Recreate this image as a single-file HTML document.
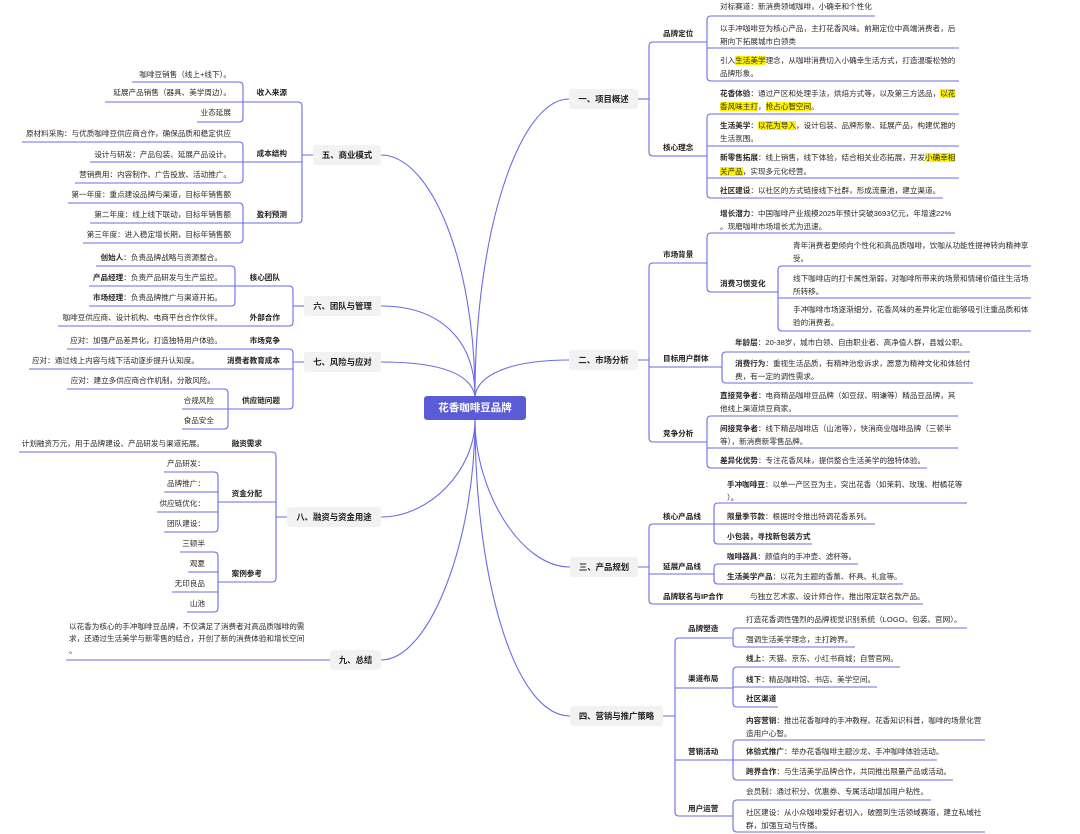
<!DOCTYPE html>
<html>
<head>
<meta charset="utf-8">
<style>
html,body{margin:0;padding:0;background:#fff;}
body{width:1080px;height:834px;position:relative;overflow:hidden;font-family:"Liberation Sans","Noto Sans CJK SC",sans-serif;}
svg{position:absolute;left:0;top:0;}
.t{position:absolute;font-size:7.6px;line-height:12px;color:#2a2a2a;white-space:nowrap;}
.m{line-height:12.5px;}
.b{font-weight:bold;color:#1e1e1e;}
.r{text-align:right;}
.h{background:#fff200;}
.box{position:absolute;background:#f2f2f2;border-radius:3px;font-size:8.4px;font-weight:bold;color:#222;text-align:center;line-height:20px;height:20px;white-space:nowrap;}
.center{position:absolute;left:424px;top:396px;width:102px;height:24px;background:#5a5bd6;border-radius:3px;color:#fff;font-size:10.5px;font-weight:bold;text-align:center;line-height:24px;white-space:nowrap;}
</style>
</head>
<body>
<svg width="1080" height="834" viewBox="0 0 1080 834" fill="none" stroke="#6a6ce3" stroke-width="1.1">
<!-- main curves -->
<path d="M381,155 C430,155 475,260 475,396"/>
<path d="M381,306 C440,306 475,340 475,396"/>
<path d="M381,362 C430,362 470,370 475,396"/>
<path d="M381,517 C430,517 475,470 475,420"/>
<path d="M381,660 C430,660 475,540 475,420"/>
<path d="M569,99 C520,99 475,230 475,396"/>
<path d="M569,360 C510,360 478,375 475,396"/>
<path d="M570,567 C520,567 475,490 475,420"/>
<path d="M570,716 C515,716 475,580 475,420"/>

<!-- 五 -->
<path d="M132,82 H239 Q243,82 243,86 V118 Q243,122 239,122 H197"/>
<path d="M105,102 H243"/>
<path d="M22,142 H239 Q243,142 243,146 V179 Q243,183 239,183 H75"/>
<path d="M90,162 H243"/>
<path d="M68,203 H239 Q243,203 243,207 V239 Q243,243 239,243 H83"/>
<path d="M90,223 H243"/>
<path d="M243,102 H298 Q302,102 302,106 V219 Q302,223 298,223 H243"/>
<path d="M243,162 H302 M302,155 H313"/>

<!-- 六 -->
<path d="M96,266 H231 Q235,266 235,270 V302 Q235,306 231,306 H89"/>
<path d="M89,286 H235"/>
<path d="M235,286 H289 Q293,286 293,290 V322 Q293,326 289,326 H58"/>
<path d="M293,306 H304"/>

<!-- 七 -->
<path d="M67,349 H289 Q293,349 293,353 V405 Q293,409 289,409 H182"/>
<path d="M29,369 H293 M293,362 H304"/>
<path d="M67,389 H224 Q228,389 228,393 V425 Q228,429 224,429 H182"/>

<!-- 八 -->
<path d="M19,452 H272 Q276,452 276,456 V578 Q276,582 272,582 H218"/>
<path d="M218,502 H276 M276,517 H287"/>
<path d="M164,472 H214 Q218,472 218,476 V528 Q218,532 214,532 H164"/>
<path d="M164,492 H218 M157,512 H218"/>
<path d="M180,552 H214 Q218,552 218,556 V608 Q218,612 214,612 H187"/>
<path d="M188,572 H218 M172,592 H218"/>

<!-- 九 -->
<path d="M66,660 H330"/>

<!-- 一 -->
<path d="M707,42 H653 Q649,42 649,46 V152 Q649,156 653,156 H707"/>
<path d="M638,99 H649"/>
<path d="M875,16 H711 Q707,16 707,20 V77 Q707,81 711,81 H959"/>
<path d="M707,48 H959"/>
<path d="M959,114 H711 Q707,114 707,118 V194 Q707,198 711,198 H943"/>
<path d="M707,146 H959 M707,178 H959"/>

<!-- 二 -->
<path d="M707,263 H653 Q649,263 649,267 V438 Q649,442 653,442 H707"/>
<path d="M649,367 H722 M638,360 H649"/>
<path d="M955,233 H711 Q707,233 707,237 V288 Q707,292 711,292 H778"/>
<path d="M1031,266 H782 Q778,266 778,270 V327 Q778,331 782,331 H1031"/>
<path d="M778,298 H1031"/>
<path d="M970,352 H726 Q722,352 722,356 V379 Q722,383 726,383 H973"/>
<path d="M958,416 H711 Q707,416 707,420 V464 Q707,468 711,468 H927"/>
<path d="M707,448 H958"/>

<!-- 三 -->
<path d="M714,524 H653 Q649,524 649,528 V600 Q649,604 653,604 H923"/>
<path d="M649,574 H714 M638,567 H649"/>
<path d="M967,503 H718 Q714,503 714,507 V540 Q714,544 718,544 H812"/>
<path d="M714,524 H875"/>
<path d="M858,564 H718 Q714,564 714,568 V580 Q714,584 718,584 H903"/>

<!-- 四 -->
<path d="M733,638 H679 Q675,638 675,642 V812 Q675,816 679,816 H733"/>
<path d="M675,688 H733 M675,760 H733 M663,716 H675"/>
<path d="M967,628 H737 Q733,628 733,632 V643 Q733,647 737,647 H855"/>
<path d="M900,667 H737 Q733,667 733,671 V703 Q733,707 737,707 H778"/>
<path d="M733,687 H877"/>
<path d="M985,740 H737 Q733,740 733,744 V776 Q733,780 737,780 H953"/>
<path d="M733,760 H937"/>
<path d="M931,800 H737 Q733,800 733,804 V828 Q733,832 737,832 H985"/>
</svg>

<!-- center -->
<div class="center">花香咖啡豆品牌</div>

<!-- section boxes -->
<div class="box" style="left:313px;top:145px;width:68px;">五、商业模式</div>
<div class="box" style="left:304px;top:296px;width:77px;">六、团队与管理</div>
<div class="box" style="left:304px;top:352px;width:77px;">七、风险与应对</div>
<div class="box" style="left:287px;top:507px;width:94px;">八、融资与资金用途</div>
<div class="box" style="left:330px;top:650px;width:51px;">九、总结</div>
<div class="box" style="left:569px;top:89px;width:69px;">一、项目概述</div>
<div class="box" style="left:569px;top:350px;width:69px;">二、市场分析</div>
<div class="box" style="left:570px;top:557px;width:68px;">三、产品规划</div>
<div class="box" style="left:570px;top:706px;width:93px;">四、营销与推广策略</div>

<!-- 五 商业模式 -->
<div class="t r" style="right:849px;top:69px;">咖啡豆销售（线上+线下）。</div>
<div class="t r" style="right:849px;top:87px;">延展产品销售（器具、美学周边）。</div>
<div class="t r" style="right:849px;top:107px;">业态延展</div>
<div class="t r" style="right:849px;top:128px;">原材料采购：与优质咖啡豆供应商合作，确保品质和稳定供应</div>
<div class="t r" style="right:849px;top:149px;">设计与研发：产品包装、延展产品设计。</div>
<div class="t r" style="right:849px;top:169px;">营销费用：内容制作、广告投放、活动推广。</div>
<div class="t r" style="right:849px;top:189px;">第一年度：重点建设品牌与渠道，目标年销售额</div>
<div class="t r" style="right:849px;top:209px;">第二年度：线上线下联动，目标年销售额</div>
<div class="t r" style="right:849px;top:229px;">第三年度：进入稳定增长期，目标年销售额</div>
<div class="t b r" style="right:793px;top:87px;">收入来源</div>
<div class="t b r" style="right:793px;top:148px;">成本结构</div>
<div class="t b r" style="right:793px;top:209px;">盈利预测</div>

<!-- 六 团队与管理 -->
<div class="t r" style="right:858px;top:252px;"><b>创始人</b>：负责品牌战略与资源整合。</div>
<div class="t r" style="right:858px;top:272px;"><b>产品经理</b>：负责产品研发与生产监控。</div>
<div class="t r" style="right:858px;top:292px;"><b>市场经理</b>：负责品牌推广与渠道开拓。</div>
<div class="t r" style="right:858px;top:312px;">咖啡豆供应商、设计机构、电商平台合作伙伴。</div>
<div class="t b r" style="right:800px;top:272px;">核心团队</div>
<div class="t b r" style="right:800px;top:312px;">外部合作</div>

<!-- 七 风险与应对 -->
<div class="t r" style="right:858px;top:335px;">应对：加强产品差异化，打造独特用户体验。</div>
<div class="t r" style="right:881px;top:355px;">应对：通过线上内容与线下活动逐步提升认知度。</div>
<div class="t r" style="right:865px;top:375px;">应对：建立多供应商合作机制，分散风险。</div>
<div class="t r" style="right:866px;top:395px;">合规风险</div>
<div class="t r" style="right:866px;top:415px;">食品安全</div>
<div class="t b r" style="right:800px;top:335px;">市场竞争</div>
<div class="t b r" style="right:800px;top:355px;">消费者教育成本</div>
<div class="t b r" style="right:800px;top:395px;">供应链问题</div>

<!-- 八 融资与资金用途 -->
<div class="t r" style="right:876px;top:438px;">计划融资万元，用于品牌建设、产品研发与渠道拓展。</div>
<div class="t r" style="right:875px;top:458px;">产品研发：</div>
<div class="t r" style="right:875px;top:478px;">品牌推广：</div>
<div class="t r" style="right:875px;top:498px;">供应链优化：</div>
<div class="t r" style="right:875px;top:518px;">团队建设：</div>
<div class="t r" style="right:875px;top:538px;">三顿半</div>
<div class="t r" style="right:875px;top:558px;">观夏</div>
<div class="t r" style="right:875px;top:578px;">无印良品</div>
<div class="t r" style="right:875px;top:598px;">山池</div>
<div class="t b r" style="right:818px;top:438px;">融资需求</div>
<div class="t b r" style="right:818px;top:488px;">资金分配</div>
<div class="t b r" style="right:818px;top:568px;">案例参考</div>

<!-- 九 总结 -->
<div class="t" style="left:69px;top:621px;line-height:12px;">以花香为核心的手冲咖啡豆品牌，不仅满足了消费者对高品质咖啡的需<br>求，还通过生活美学与新零售的结合，开创了新的消费体验和增长空间<br>。</div>

<!-- 一 项目概述 -->
<div class="t b" style="left:663px;top:28px;">品牌定位</div>
<div class="t b" style="left:663px;top:142px;">核心理念</div>
<div class="t" style="left:720px;top:1px;">对标赛道：新消费领域咖啡，小确幸和个性化</div>
<div class="t m" style="left:720px;top:22px;line-height:13px;">以手冲咖啡豆为核心产品，主打花香风味。前期定位中高端消费者，后<br>期向下拓展城市白领类</div>
<div class="t m" style="left:720px;top:55px;">引入<span class="h">生活美学</span>理念，从咖啡消费切入小确幸生活方式，打造温暖松弛的<br>品牌形象。</div>
<div class="t m" style="left:720px;top:88px;"><b>花香体验</b>：通过产区和处理手法，烘焙方式等，以及第三方选品，<span class="h">以花</span><br><span class="h">香风味主打</span>，<span class="h">抢占心智空间</span>。</div>
<div class="t m" style="left:720px;top:120px;"><b>生活美学</b>：<span class="h">以花为导入</span>，设计包装、品牌形象、延展产品，构建优雅的<br>生活氛围。</div>
<div class="t m" style="left:720px;top:151px;line-height:13.5px;"><b>新零售拓展</b>：线上销售，线下体验，结合相关业态拓展，开发<span class="h">小确幸相</span><br><span class="h">关产品</span>，实现多元化经营。</div>
<div class="t" style="left:720px;top:185px;"><b>社区建设</b>：以社区的方式链接线下社群，形成流量池，建立渠道。</div>

<!-- 二 市场分析 -->
<div class="t b" style="left:663px;top:249px;">市场背景</div>
<div class="t b" style="left:663px;top:353px;">目标用户群体</div>
<div class="t b" style="left:663px;top:428px;">竞争分析</div>
<div class="t m" style="left:720px;top:208px;"><b>增长潜力</b>：中国咖啡产业规模2025年预计突破3693亿元，年增速22%<br>。现磨咖啡市场增长尤为迅速。</div>
<div class="t b" style="left:720px;top:278px;">消费习惯变化</div>
<div class="t m" style="left:793px;top:239px;line-height:13px;">青年消费者更倾向个性化和高品质咖啡，饮咖从功能性提神转向精神享<br>受。</div>
<div class="t m" style="left:793px;top:273px;">线下咖啡店的打卡属性渐弱，对咖啡所带来的场景和情绪价值往生活场<br>所转移。</div>
<div class="t m" style="left:793px;top:304px;">手冲咖啡市场逐渐细分，花香风味的差异化定位能够吸引注重品质和体<br>验的消费者。</div>
<div class="t" style="left:735px;top:337px;"><b>年龄层</b>：20-38岁，城市白领、自由职业者、高净值人群，县城公职。</div>
<div class="t m" style="left:735px;top:357px;line-height:13px;"><b>消费行为</b>：重视生活品质，有精神治愈诉求，愿意为精神文化和体验付<br>费，有一定的调性需求。</div>
<div class="t m" style="left:720px;top:390px;"><b>直接竞争者</b>：电商精品咖啡豆品牌（如豆叔、明谦等）精品豆品牌，其<br>他线上渠道烘豆商家。</div>
<div class="t m" style="left:720px;top:423px;"><b>间接竞争者</b>：线下精品咖啡店（山池等），快消商业咖啡品牌（三顿半<br>等），新消费新零售品牌。</div>
<div class="t" style="left:720px;top:455px;"><b>差异化优势</b>：专注花香风味，提供整合生活美学的独特体验。</div>

<!-- 三 产品规划 -->
<div class="t b" style="left:663px;top:511px;">核心产品线</div>
<div class="t b" style="left:663px;top:561px;">延展产品线</div>
<div class="t b" style="left:663px;top:591px;">品牌联名与IP合作</div>
<div class="t m" style="left:727px;top:478px;line-height:13px;"><b>手冲咖啡豆</b>：以单一产区豆为主，突出花香（如茉莉、玫瑰、柑橘花等<br>）。</div>
<div class="t" style="left:727px;top:511px;"><b>限量季节款</b>：根据时令推出特调花香系列。</div>
<div class="t b" style="left:727px;top:531px;">小包装，寻找新包装方式</div>
<div class="t" style="left:727px;top:551px;"><b>咖啡器具</b>：颜值向的手冲壶、滤杯等。</div>
<div class="t" style="left:727px;top:571px;"><b>生活美学产品</b>：以花为主题的香薰、杯具、礼盒等。</div>
<div class="t" style="left:750px;top:591px;">与独立艺术家、设计师合作，推出限定联名款产品。</div>

<!-- 四 营销与推广策略 -->
<div class="t b" style="left:688px;top:623px;">品牌塑造</div>
<div class="t b" style="left:688px;top:673px;">渠道布局</div>
<div class="t b" style="left:688px;top:746px;">营销活动</div>
<div class="t b" style="left:688px;top:803px;">用户运营</div>
<div class="t" style="left:746px;top:614px;">打造花香调性强烈的品牌视觉识别系统（LOGO、包装、官网）。</div>
<div class="t" style="left:746px;top:634px;">强调生活美学理念，主打跨界。</div>
<div class="t" style="left:746px;top:653px;"><b>线上</b>：天猫、京东、小红书商城；自营官网。</div>
<div class="t" style="left:746px;top:674px;"><b>线下</b>：精品咖啡馆、书店、美学空间。</div>
<div class="t b" style="left:746px;top:693px;">社区渠道</div>
<div class="t m" style="left:746px;top:714px;line-height:13px;"><b>内容营销</b>：推出花香咖啡的手冲教程、花香知识科普，咖啡的场景化营<br>造用户心智。</div>
<div class="t" style="left:746px;top:746px;"><b>体验式推广</b>：举办花香咖啡主题沙龙、手冲咖啡体验活动。</div>
<div class="t" style="left:746px;top:766px;"><b>跨界合作</b>：与生活美学品牌合作，共同推出限量产品或活动。</div>
<div class="t" style="left:746px;top:786px;">会员制：通过积分、优惠券、专属活动增加用户粘性。</div>
<div class="t m" style="left:746px;top:806px;line-height:13px;">社区建设：从小众咖啡爱好者切入，破圈到生活领域赛道，建立私域社<br>群，加强互动与传播。</div>
</body>
</html>
